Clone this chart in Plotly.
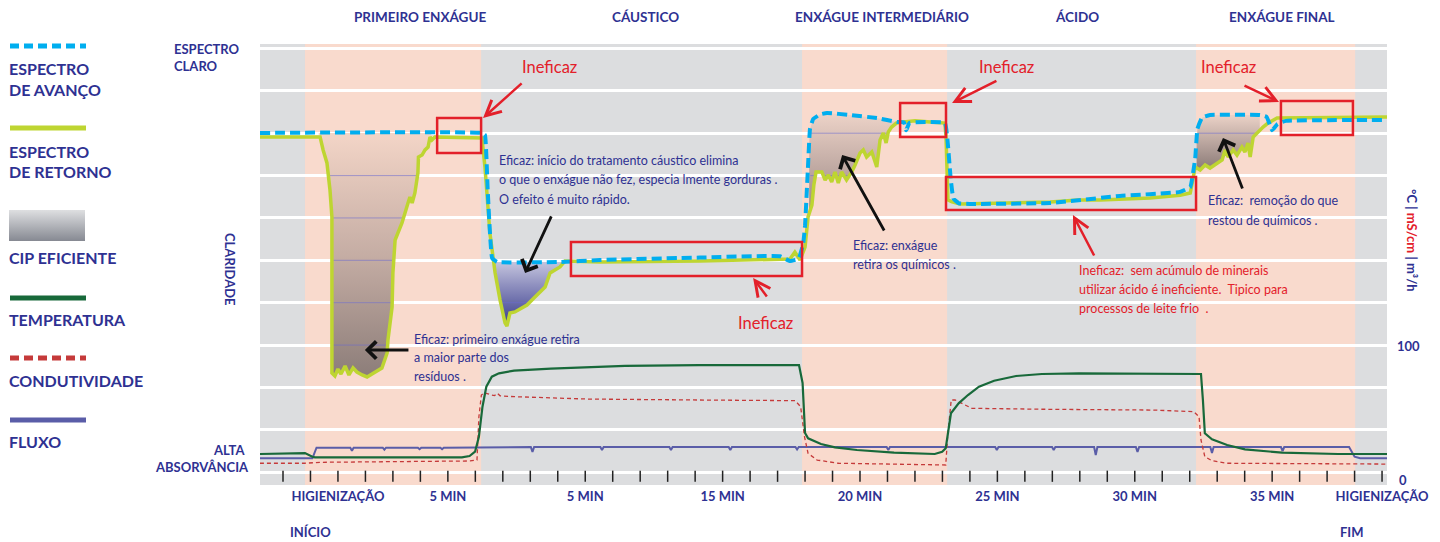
import numpy as np
import plotly.graph_objects as go

W, H = 1440, 542
NAVY = "#2E3192"
RED = "#E3202A"
FONT = "Lato"

# ---------------- data ----------------
phase_names = ["PRIMEIRO ENXÁGUE", "CÁUSTICO", "ENXÁGUE INTERMEDIÁRIO", "ÁCIDO", "ENXÁGUE FINAL"]
phase_start = [0.80, 7.21, 18.89, 24.17, 33.23]
phase_end = [7.21, 18.89, 24.17, 33.23, 39.02]
phase_rinse = [True, False, True, False, True]
phase_title_x = [5.00, 13.18, 21.80, 28.90, 36.36]

minute_marks = list(range(0, 41))
x_tick_vals = [2, 6, 11, 16, 21, 26, 31, 36, 40]
x_tick_text = ["HIGIENIZAÇÃO", "5 MIN", "5 MIN", "15 MIN", "20 MIN", "25 MIN", "30 MIN", "35 MIN", "HIGIENIZAÇÃO"]
right_tick_vals = [0, 100]
right_tick_text = ["0", "100"]

# Espectro de avanço (forward clarity)
avanco_x = [-0.84, 7.24, 7.35, 7.45, 7.61, 7.79, 10.08, 11.54, 15.18, 18.09, 18.45, 18.75, 18.82,
            18.93, 19.00, 19.11, 19.18, 19.30, 19.55, 19.80, 20.64, 21.62, 22.35, 22.60, 22.68, 22.80,
            24.09, 24.20, 24.30, 24.40, 24.60, 25.00, 27.92, 30.46, 32.65, 33.02, 33.20, 33.28, 33.45,
            33.74, 35.56, 35.80, 36.00, 36.20, 36.50, 40.18]
avanco_y = [259.0, 259.0, 257.5, 216.4, 165.7, 162.7, 162.7, 164.2, 166.0, 167.0, 163.4, 165.0, 168.0,
            176.0, 190.0, 235.0, 262.0, 269.5, 272.8, 273.9, 272.4, 270.1, 267.2, 267.0, 261.0, 266.4,
            266.4, 250.0, 225.0, 210.0, 206.5, 206.0, 206.7, 212.0, 215.0, 218.7, 240.0, 262.0, 270.5,
            272.4, 272.4, 271.0, 261.0, 265.7, 268.0, 268.7]

# Espectro de retorno (return clarity)
retorno_x = [-0.84, 1.35, 1.46, 1.60, 1.71, 1.78, 1.78, 1.89, 2.00, 2.11, 2.26, 2.40, 2.55, 2.69, 2.88,
             3.06, 3.24, 3.46, 3.60, 3.79, 3.82, 3.97, 4.00, 4.08, 4.33, 4.55, 4.62, 4.70, 4.80, 4.91,
             4.93, 5.06, 5.17, 5.28, 5.35, 5.42, 5.53, 7.24, 7.35, 7.53, 7.72, 7.90, 8.08, 8.15, 8.26,
             8.44, 8.63, 8.88, 9.17, 9.54, 9.72, 9.90, 10.08, 10.26, 11.54, 15.18, 17.36, 18.45, 18.63,
             18.82, 19.00, 19.11, 19.25, 19.32, 19.40, 19.61, 19.73, 19.85, 19.97, 20.09, 20.21, 20.33,
             20.51, 20.70, 20.82, 21.00, 21.12, 21.24, 21.43, 21.61, 21.73, 21.85, 21.95, 22.03, 22.15,
             22.33, 22.58, 23.00, 24.09, 24.13, 24.20, 24.35, 24.64, 26.10, 27.92, 28.94, 29.74, 31.56,
             32.65, 33.02, 33.20, 33.38, 33.56, 33.74, 34.00, 34.18, 34.29, 34.40, 34.58, 34.72, 34.90,
             35.01, 35.12, 35.20, 35.31, 35.45, 35.67, 35.85, 36.18, 40.18]
retorno_y = [256.0, 256.0, 246.3, 236.6, 216.4, 196.3, 79.9, 77.6, 82.8, 79.1, 85.1, 78.4, 83.6, 80.6, 78.4,
             76.9, 79.1, 82.1, 83.6, 94.8, 104.5, 129.1, 154.5, 179.1, 191.8, 206.7, 211.2, 206.7, 214.2, 229.1,
             241.0, 242.5, 246.3, 248.5, 256.0, 253.7, 256.0, 255.2, 233.6, 184.3, 154.5, 134.3, 117.2, 114.9, 124.6,
             125.4, 127.6, 130.6, 136.6, 144.0, 154.5, 156.7, 159.0, 163.4, 162.7, 163.4, 164.2, 164.9, 170.1,
             164.2, 173.9, 196.3, 205.2, 220.1, 229.9, 229.9, 223.9, 227.6, 222.4, 229.9, 221.6, 229.9,
             223.9, 229.9, 235.1, 244.0, 246.3, 241.0, 244.8, 233.6, 253.7, 259.0, 251.5, 259.7, 263.4,
             266.4, 267.2, 268.0, 266.4, 256.0, 209.0, 207.5, 206.0, 206.7, 207.5, 209.0, 209.0, 210.4,
             212.5, 214.2, 233.6, 231.3, 235.1, 232.8, 236.6, 238.8, 246.3, 241.0, 246.3, 242.5, 248.5,
             244.8, 251.5, 241.0, 256.0, 259.0, 263.4, 266.4, 270.1, 270.9]

# Temperatura (°C)
temp_x = [-0.84, 0.80, 1.07, 1.16, 6.51, 6.79, 6.99, 7.13, 7.26, 7.40, 7.60, 7.86, 8.41, 9.75, 12.45,
          15.14, 18.78, 18.91, 19.00, 19.11, 19.58, 20.09, 20.89, 22.24, 23.72, 23.99, 24.12, 24.23,
          24.31, 24.59, 24.93, 25.33, 25.88, 26.68, 27.62, 28.97, 33.01, 33.41, 33.48, 33.55, 33.81,
          34.36, 35.01, 36.36, 38.40, 40.18]
temp_y = [19.4, 20.1, 17.4, 16.9, 16.9, 17.9, 21.1, 32.3, 54.7, 69.6, 77.1, 79.6, 81.6, 83.1, 85.1,
          85.8, 85.8, 72.4, 35.1, 31.1, 26.9, 24.4, 22.4, 20.4, 19.4, 21.1, 23.7, 39.8,
          49.8, 57.2, 63.4, 69.6, 74.1, 77.6, 79.1, 79.6, 79.6, 79.1, 59.7, 34.9, 30.4,
          26.1, 22.9, 20.4, 19.4, 19.4]

# Condutividade (mS/cm)
cond_x = [-0.84, 0.80, 1.35, 4.26, 6.81, 7.06, 7.13, 7.22, 7.33, 7.60, 7.70, 7.80, 7.90, 8.41, 11.10,
          15.14, 18.64, 18.84, 18.98, 19.11, 19.44, 20.22, 24.12, 24.20, 24.32, 24.46, 24.93, 25.07,
          27.62, 31.67, 33.15, 33.34, 33.41, 33.55, 33.81, 34.36, 40.18]
cond_y = [12.5, 12.5, 13.2, 13.7, 14.2, 14.9, 47.2, 63.4, 65.1, 63.4, 63.0, 64.7, 62.8, 62.2, 60.4,
          59.7, 59.2, 54.7, 32.3, 19.9, 14.9, 12.5, 11.2, 35.1, 59.7, 59.7, 54.7, 53.5,
          52.8, 52.2, 51.0, 47.2, 29.9, 17.4, 14.4, 12.5, 11.9]

# Fluxo (m³/h)
fluxo_x = [-0.84, 1.07, 1.22,
           2.45, 2.51, 2.57, 3.63, 3.69, 3.75, 4.91, 4.97, 5.03, 5.73, 5.79, 5.85,
           7.15, 7.25,
           9.02, 9.08, 9.14, 11.55, 11.61, 11.67, 14.06, 14.12, 14.18, 16.22, 16.28, 16.34,
           18.65, 18.71, 18.77, 21.97, 22.03, 22.09, 25.92, 25.98, 26.04, 27.99, 28.05, 28.11,
           29.52, 29.58, 29.64, 31.04, 31.10, 31.16, 33.75, 33.81, 33.87, 36.32, 36.38, 36.44,
           38.80, 39.00, 39.20, 40.18]
fluxo_y = [16.2, 16.2, 24.1,
           24.1, 21.9, 24.1, 24.1, 22.6, 24.1, 24.1, 23.0, 24.1, 24.1, 23.0, 24.1,
           24.1, 24.6,
           24.6, 20.9, 24.6, 24.6, 22.4, 24.6, 24.6, 22.4, 24.6, 24.6, 22.4, 24.6,
           24.6, 22.8, 24.6, 24.6, 22.4, 24.6, 24.6, 22.4, 24.6, 24.6, 22.4, 24.6,
           24.6, 18.6, 24.6, 24.6, 20.9, 24.6, 24.6, 20.1, 24.6, 24.6, 21.6, 24.6,
           24.6, 17.4, 16.2, 16.2]

# CIP eficiente regions (x-ranges between return and forward spectra)
cip_x0 = [1.30, 7.62, 19.15, 33.25]
cip_x1 = [5.40, 10.30, 22.35, 35.55]
cip_colors = [
    [[0, "#8C7D79"], [0.5, "#C5ADA4"], [1, "#F3D5C7"]],
    [[0, "#363A8C"], [0.55, "#8F90BF"], [1, "#DCDCEB"]],
    [[0, "#9A8784"], [1, "#EDD3C8"]],
    [[0, "#8A7A77"], [1, "#EBD2C7"]],
]

# "Ineficaz" highlight boxes (x0, x1, y0, y1)
box_x0 = [5.61, 10.48, 22.46, 24.13, 36.32]
box_x1 = [7.21, 18.89, 24.13, 33.23, 38.94]
box_y0 = [244.0, 152.2, 256.0, 201.5, 257.5]
box_y1 = [270.1, 177.6, 281.3, 226.1, 282.8]

# ---------------- helpers ----------------
X_RANGE = [-0.837, 40.18]
Y_RANGE = [-3.73, 325.37]
GRID0, GRID_STEP = 100.7, 31.62


def fx(p):
    return p / W


def fy(p):
    return 1 - p / H


def cip_polygon(x0, x1):
    gx = [x for x in retorno_x if x0 < x < x1]
    gy = [y for x, y in zip(retorno_x, retorno_y) if x0 < x < x1]
    bx = [x for x in avanco_x if x0 < x < x1]
    by = [y for x, y in zip(avanco_x, avanco_y) if x0 < x < x1]
    g0, g1 = np.interp([x0, x1], retorno_x, retorno_y)
    b0, b1 = np.interp([x0, x1], avanco_x, avanco_y)
    xs = [x0] + gx + [x1, x1] + bx[::-1] + [x0, x0]
    ys = [g0] + gy + [g1, b1] + by[::-1] + [b0, g0]
    return xs, ys


def level_segments(xs, ys, level):
    cross = []
    for i in range(len(xs) - 1):
        ya, yb = ys[i], ys[i + 1]
        if (ya - level) * (yb - level) < 0:
            t = (level - ya) / (yb - ya)
            cross.append(xs[i] + t * (xs[i + 1] - xs[i]))
    cross.sort()
    return [(cross[i], cross[i + 1]) for i in range(0, len(cross) - 1, 2)]


fig = go.Figure()

# CIP fills
grid_levels = [GRID0 + k * GRID_STEP for k in range(-3, 8)]
tint_x, tint_y = [], []
for x0, x1, cs in zip(cip_x0, cip_x1, cip_colors):
    xs, ys = cip_polygon(x0, x1)
    fig.add_trace(go.Scatter(x=xs, y=ys, mode="lines", line=dict(width=0), fill="toself",
                             fillgradient=dict(type="vertical", colorscale=cs),
                             hoverinfo="skip", showlegend=False))
    for L in grid_levels:
        if L > max(ys) - 3:
            continue
        for a, b in level_segments(xs, ys, L):
            tint_x += [a + 0.04, b - 0.04, None]
            tint_y += [L, L, None]
fig.add_trace(go.Scatter(x=tint_x, y=tint_y, mode="lines",
                         line=dict(color="rgba(105,105,210,0.55)", width=1),
                         hoverinfo="skip", showlegend=False))

# clarity spectra
fig.add_trace(go.Scatter(x=retorno_x, y=retorno_y, mode="lines",
                         line=dict(color="#BED531", width=3.5), showlegend=False))
fig.add_trace(go.Scatter(x=avanco_x, y=avanco_y, mode="lines",
                         line=dict(color="#00AEEF", width=4, dash="10px,5px", shape="spline", smoothing=0.3),
                         showlegend=False))

# process signals
fig.add_trace(go.Scatter(x=fluxo_x, y=fluxo_y, mode="lines",
                         line=dict(color="#5A5DA8", width=2), showlegend=False))
fig.add_trace(go.Scatter(x=cond_x, y=cond_y, mode="lines",
                         line=dict(color="#C53A3A", width=1.3, dash="4px,3px"), showlegend=False))
fig.add_trace(go.Scatter(x=temp_x, y=temp_y, mode="lines",
                         line=dict(color="#18693A", width=2.2), showlegend=False))

# minute tick marks
fig.add_trace(go.Scatter(x=minute_marks, y=[2.8] * len(minute_marks), mode="markers",
                         marker=dict(symbol="line-ns", size=8, line=dict(color="#222222", width=1.5)),
                         hoverinfo="skip", showlegend=False))

# right axis dummy trace
fig.add_trace(go.Scatter(x=[None], y=[None], yaxis="y2", showlegend=False))

# legend gradient swatch (CIP EFICIENTE)
fig.add_trace(go.Scatter(x=[0, 1, 1, 0, 0], y=[0, 0, 1, 1, 0], mode="lines", line=dict(width=0),
                         fill="toself",
                         fillgradient=dict(type="vertical", colorscale=[[0, "#868992"], [1, "#DEDFE1"]]),
                         xaxis="x3", yaxis="y3", hoverinfo="skip", showlegend=False))

shapes = []
for s, e, rinse in zip(phase_start, phase_end, phase_rinse):
    if rinse:
        shapes.append(dict(type="rect", xref="x", yref="y domain", x0=s, x1=e, y0=0, y1=1,
                           fillcolor="#F9DACD", line=dict(width=0), layer="below"))
for x0, x1, y0, y1 in zip(box_x0, box_x1, box_y0, box_y1):
    shapes.append(dict(type="rect", xref="x", yref="y", x0=x0, x1=x1, y0=y0, y1=y1,
                       line=dict(color=RED, width=2.5), fillcolor="rgba(0,0,0,0)", layer="above"))

# legend line samples
legend_lines = [(46, "#00AEEF", "9px,5px"), (128, "#BED531", "solid"), (298, "#18693A", "solid"),
                (358, "#C53A3A", "9px,5px"), (420, "#5A5DA8", "solid")]
for yy, col, dash in legend_lines:
    shapes.append(dict(type="line", xref="paper", yref="paper", x0=fx(10), x1=fx(86), y0=fy(yy), y1=fy(yy),
                       line=dict(color=col, width=5, dash=dash)))

ann = []


def text(px, py, t, size=13, color=NAVY, bold=False, xanchor="left", angle=0):
    ann.append(dict(x=fx(px), y=fy(py), xref="paper", yref="paper", text=t, showarrow=False,
                    xanchor=xanchor, yanchor="middle", textangle=angle,
                    font=dict(family=FONT, size=size, color=color, weight="bold" if bold else "normal")))


# phase titles
for name, tx in zip(phase_names, phase_title_x):
    ann.append(dict(x=tx, y=fy(17), xref="x", yref="paper", text=name, showarrow=False,
                    xanchor="center", yanchor="middle",
                    font=dict(family=FONT, size=13.5, color=NAVY, weight="bold")))

# legend texts
for py, t in [(69, "ESPECTRO"), (89, "DE AVANÇO"), (151, "ESPECTRO"), (171, "DE RETORNO"),
              (257, "CIP EFICIENTE"), (319, "TEMPERATURA"), (380, "CONDUTIVIDADE"), (441, "FLUXO")]:
    text(7, py, t, size=16, bold=True)

# axis side labels
text(172, 49, "ESPECTRO", size=13, bold=True)
text(172, 66, "CLARO", size=13, bold=True)
text(230, 270, "CLARIDADE", size=13, bold=True, xanchor="center", angle=90)
text(248, 450, "ALTA", size=13, bold=True, xanchor="right")
text(251, 467, "ABSORVÂNCIA", size=13, bold=True, xanchor="right")
text(310, 532, "INÍCIO", size=13, bold=True, xanchor="center")
text(1352, 532, "FIM", size=13, bold=True, xanchor="center")
text(1412, 240, "°C | <span style='color:#E3202A'>mS/cm</span> | m³/h", size=13, bold=True,
     xanchor="center", angle=90)
text(1397, 480, right_tick_text[0], size=13, bold=True)

# explanatory notes
for px, py, t in [(497, 161, "Eficaz: início do tratamento cáustico elimina"),
                  (497, 180, "o que o enxágue não fez, especia lmente gorduras ."),
                  (497, 199, "O efeito é muito rápido."),
                  (412, 339, "Eficaz: primeiro enxágue retira"),
                  (412, 357, "a maior parte dos"),
                  (412, 376, "resíduos ."),
                  (851, 245, "Eficaz: enxágue"),
                  (851, 265, "retira os químicos ."),
                  (1206, 201, "Eficaz:  remoção do que"),
                  (1206, 220, "restou de químicos .")]:
    text(px, py, t, size=12.5)
for px, py, t in [(1077, 270, "Ineficaz:  sem acúmulo de minerais"),
                  (1077, 289, "utilizar ácido é ineficiente.  Tipico para"),
                  (1077, 308, "processos de leite frio  .")]:
    text(px, py, t, size=12.5, color=RED)
for px, py in [(549, 67), (765, 323), (1006, 67), (1228, 67)]:
    text(px, py, "Ineficaz", size=16.5, color=RED, xanchor="center")

# arrows (head x, head y, tail x, tail y)
red_arrows = [(7.28, 270.1, 8.74, 297.0), (17.11, 150.7, 17.65, 135.8), (24.35, 281.3, 26.02, 298.5),
              (28.75, 197.8, 29.55, 166.4), (36.25, 282.1, 34.94, 294.8)]
black_arrows = [(2.98, 97.0, 4.62, 97.0), (8.81, 154.5, 9.79, 197.8), (20.35, 242.5, 21.91, 185.1),
                (34.21, 255.2, 34.94, 216.4)]
for arr, col, wd, head in [(red_arrows, RED, 2.5, 5), (black_arrows, "#111111", 2.8, 4)]:
    for hx, hy, tx, ty in arr:
        ann.append(dict(x=hx, y=hy, ax=tx, ay=ty, xref="x", yref="y", axref="x", ayref="y",
                        text="", showarrow=True, arrowhead=head, arrowsize=1.2, arrowwidth=wd,
                        arrowcolor=col, standoff=0, startstandoff=0))

fig.update_layout(
    width=W, height=H, autosize=False,
    margin=dict(l=0, r=0, t=0, b=0, pad=0, autoexpand=False),
    paper_bgcolor="white", plot_bgcolor="#DCDDDF",
    showlegend=False,
    shapes=shapes, annotations=ann,
    xaxis=dict(domain=[260 / W, 1387 / W], range=X_RANGE, showgrid=False, zeroline=False,
               showline=False, ticks="", tickvals=x_tick_vals, ticktext=x_tick_text, automargin=False,
               tickfont=dict(family=FONT, size=13, color=NAVY, weight="bold"), ticklabelstandoff=2),
    yaxis=dict(domain=[1 - 485 / H, 1 - 44 / H], range=Y_RANGE, showgrid=True, gridcolor="white",
               gridwidth=2.5, tick0=GRID0, dtick=GRID_STEP, showticklabels=False, zeroline=False,
               showline=False, ticks="", automargin=False),
    yaxis2=dict(overlaying="y", side="right", anchor="x", range=Y_RANGE, showgrid=False, zeroline=False,
                tickvals=right_tick_vals[1:], ticktext=right_tick_text[1:], ticks="", automargin=False,
                tickfont=dict(family=FONT, size=13, color=NAVY, weight="bold"), ticklabelstandoff=9),
    xaxis3=dict(domain=[9 / W, 85 / W], range=[0, 1], visible=False, anchor="y3"),
    yaxis3=dict(domain=[1 - 241 / H, 1 - 210 / H], range=[0, 1], visible=False, anchor="x3"),
)

fig.write_html("out.html", config={"displayModeBar": False},
               post_script="document.body.style.margin='0px';")
